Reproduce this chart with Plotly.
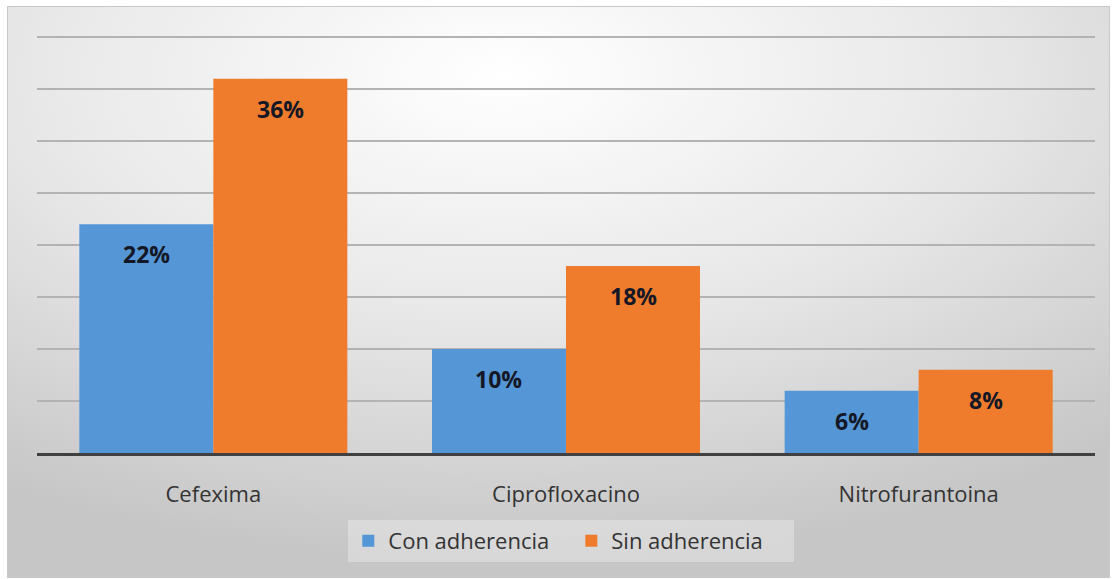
import base64
import plotly.graph_objects as go

# Data
categories = ["Cefexima", "Ciprofloxacino", "Nitrofurantoina"]
series_names = ["Con adherencia", "Sin adherencia"]
con_adherencia = [22, 10, 6]
sin_adherencia = [36, 18, 8]
colors = ["#5596D6", "#EF7C2C"]

BARGAP = 0.24
Y_MAX = 40.5
W, H = 1117, 579
L, R, T, B = 37, 22, 32, 126
plot_w = W - L - R
plot_h = H - T - B

fig = go.Figure()
for name, vals, col in zip(series_names, [con_adherencia, sin_adherencia], colors):
    fig.add_trace(go.Bar(
        name=name, x=categories, y=vals,
        marker=dict(color=col, line=dict(width=0)),
        hoverinfo="x+y",
    ))

# Value labels placed a little below each bar top
bar_w = (1 - BARGAP) / 2
for s, vals in enumerate([con_adherencia, sin_adherencia]):
    offset = (s - 0.5) * bar_w
    for i, v in enumerate(vals):
        fig.add_annotation(
            x=i + offset, y=v, xref="x", yref="y",
            text=f"<b>{v}%</b>", showarrow=False,
            yanchor="middle", yshift=-30,
            font=dict(family="Open Sans", size=23, color="#141826"),
        )

# Soft radial background for the chart panel
svg = (
    '<svg xmlns="http://www.w3.org/2000/svg" width="1103" height="572" preserveAspectRatio="none">'
    '<defs><radialGradient id="g" cx="0.45" cy="0.12" r="0.85" fx="0.45" fy="0.12">'
    '<stop offset="0" stop-color="#ffffff"/>'
    '<stop offset="0.5" stop-color="#e8e8e8"/>'
    '<stop offset="1" stop-color="#c6c6c6"/>'
    '</radialGradient></defs>'
    '<rect x="0" y="0" width="1103" height="572" fill="url(#g)" stroke="#c8c8c8" stroke-width="2"/>'
    '</svg>'
)
src = "data:image/svg+xml;base64," + base64.b64encode(svg.encode()).decode()
x0 = (7 - L) / plot_w
x1 = (1110 - L) / plot_w
y_top = 1 + (T - 6) / plot_h
y_bot = -(578 - T - plot_h) / plot_h
fig.add_layout_image(
    source=src, xref="paper", yref="paper",
    x=x0, y=y_top, sizex=x1 - x0, sizey=y_top - y_bot,
    xanchor="left", yanchor="top", sizing="stretch", layer="below",
)

fig.update_layout(
    width=W, height=H,
    margin=dict(l=L, r=R, t=T, b=B),
    paper_bgcolor="white",
    plot_bgcolor="rgba(0,0,0,0)",
    barmode="group",
    bargap=BARGAP,
    bargroupgap=0,
    font=dict(family="Open Sans", color="#404040"),
    showlegend=True,
    legend=dict(
        orientation="h", x=0.505, xanchor="center",
        y=-(520 - T - plot_h) / plot_h, yanchor="top",
        bgcolor="rgba(255,255,255,0.3)",
        font=dict(family="Open Sans", size=22, color="#333333"),
        itemwidth=30, tracegroupgap=0,
        entrywidth=178, entrywidthmode="pixels",
    ),
)
fig.update_xaxes(
    showgrid=False, showline=True, linecolor="#404040", linewidth=3,
    ticks="outside", ticklen=20, tickcolor="rgba(0,0,0,0)",
    tickfont=dict(family="Open Sans", size=22, color="#333333"),
    fixedrange=True,
)
fig.update_yaxes(
    range=[0, Y_MAX], dtick=5, showgrid=True, gridcolor="#b3b3b3", gridwidth=2,
    showticklabels=False, zeroline=False, showline=False, fixedrange=True,
)

fig.write_html("out.html")
